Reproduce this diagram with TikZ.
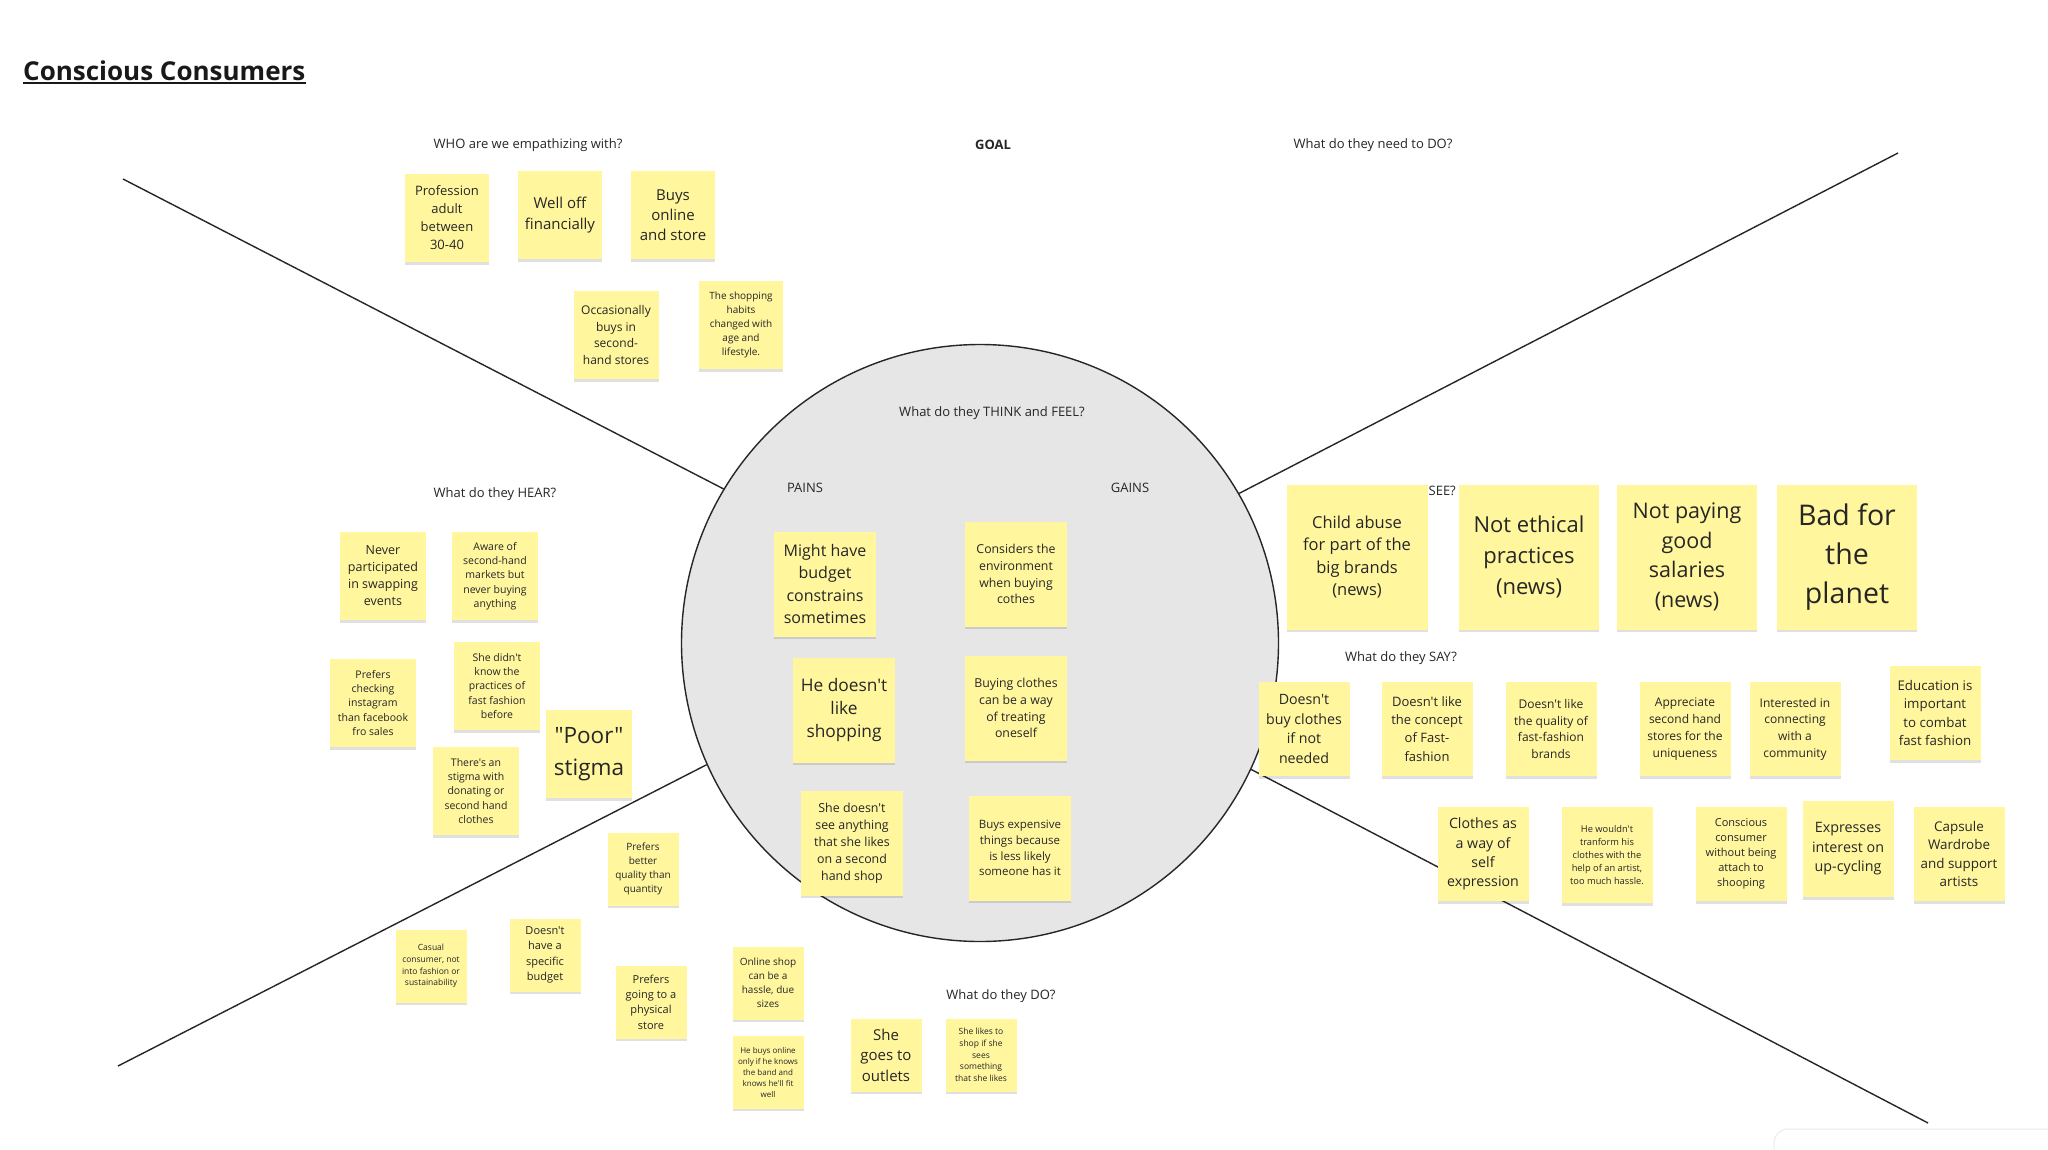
\documentclass[tikz,border=0pt]{standalone}
\usepackage{fontspec}
\setmainfont{Open Sans}[Ligatures=TeXOff]
\usetikzlibrary{shadows}
\definecolor{notey}{RGB}{255,246,158}
\definecolor{thinkgrey}{RGB}{230,230,230}
\definecolor{inkgrey}{RGB}{38,38,38}

\begin{document}
\begin{tikzpicture}[
  x=1pt, y=-1pt,
  fs/.style 2 args={font=\fontsize{#1}{#2}\selectfont},
  heading/.style={fs={13}{16}, text=inkgrey, inner sep=0pt},
  note/.style={fill=notey, text=inkgrey, align=center, inner sep=0pt,
    drop shadow={shadow xshift=0pt, shadow yshift=-2.5pt, opacity=0.12, fill=black}},
  n86/.style={note, minimum width=86, minimum height=88},
  n71/.style={note, minimum width=71, minimum height=73},
  n102/.style={note, minimum width=102, minimum height=105},
  n140/.style={note, minimum width=140, minimum height=145},
  n91/.style={note, minimum width=91, minimum height=94},
  quadline/.style={draw=inkgrey, line width=1.4pt}
]
\useasboundingbox (0,0) rectangle (2048,1149);
\clip (0,0) rectangle (2048,1149);
\fill[white] (0,0) rectangle (2048,1149);
\draw[black!8, line width=1pt, rounded corners=14] (1774,1129) rectangle (2080,1190);

\node[font=\fontsize{26}{30}\selectfont\bfseries, text=black!90, inner sep=0pt, anchor=base west] (title) at (23,80) {Conscious Consumers};
\draw[line width=2pt, black!90] ([yshift=-2.5pt]title.base west) -- ([yshift=-2.5pt]title.base east);

\node[draw=inkgrey, line width=1.4pt, circle, fill=thinkgrey, minimum size=597] (think) at (980,643) {};
\coordinate (tl) at (123,179);
\coordinate (tr) at (1898,153);
\coordinate (bl) at (118,1066);
\coordinate (br) at (1928,1123);
\draw[quadline] (tl) -- (think.149.5);
\draw[quadline] (tr) -- (think.30.7);
\draw[quadline] (bl) -- (think.204.1);
\draw[quadline] (br) -- (think.-25);

\node[heading] (who) at (528,145) {WHO are we empathizing with?};
\node[heading, font=\fontsize{13}{16}\selectfont\bfseries] (goal) at (993,145) {GOAL};
\node[heading] (needdo) at (1373,145) {What do they need to DO?};
\node[n86, minimum width=84, fs={13}{18}] (w1) at (447,218) {Profession\\adult\\between\\30-40};
\node[n86, minimum width=84, fs={15}{20.5}] (w2) at (560,215) {Well off\\financially};
\node[n86, minimum width=84, fs={15}{20}] (w3) at (673,215) {Buys\\online\\and store};
\node[n86, minimum width=85, fs={12}{16.7}] (w4) at (616,335) {Occasionally\\buys in\\second-\\hand stores};
\node[n86, minimum width=84, fs={10}{14}] (w5) at (741,325) {The shopping\\habits\\changed with\\age and\\lifestyle.};

\node[heading] (hear) at (495,494) {What do they HEAR?};
\node[n86, fs={12.5}{17}] (h1) at (383,576) {Never\\participated\\in swapping\\events};
\node[n86, fs={10.5}{14.3}] (h2) at (495,576) {Aware of\\second-hand\\markets but\\never buying\\anything};
\node[n86, fs={10.5}{14.3}] (h3) at (373,703) {Prefers\\checking\\instagram\\than facebook\\fro sales};
\node[n86, fs={10.5}{14.3}] (h4) at (497,686) {She didn't\\know the\\practices of\\fast fashion\\before};
\node[n86, fs={10.5}{14.3}] (h5) at (476,791) {There's an\\stigma with\\donating or\\second hand\\clothes};
\node[n86, fs={22.5}{31.5}] (h6) at (589,754) {"Poor"\\stigma};

\node[n71, fs={10}{14.2}] (o1) at (643,869) {Prefers\\better\\quality than\\quantity};
\node[n71, fs={8.5}{11.8}] (o2) at (431,966) {Casual\\consumer, not\\into fashion or\\sustainability};
\node[n71, fs={11}{15.3}] (o3) at (545,955) {Doesn't\\have a\\specific\\budget};
\node[n71, fs={11}{15.3}] (o4) at (651,1002) {Prefers\\going to a\\physical\\store};
\node[n71, fs={10}{14.1}] (o5) at (768,983) {Online shop\\can be a\\hassle, due\\sizes};
\node[n71, fs={8}{11}] (o6) at (768,1072) {He buys online\\only if he knows\\the band and\\knows he'll fit\\well};
\node[heading] (do) at (1001,996) {What do they DO?};
\node[n71, fs={15}{20.5}] (o7) at (886,1055) {She\\goes to\\outlets};
\node[n71, fs={8.5}{11.7}] (o8) at (981,1055) {She likes to\\shop if she\\sees\\something\\that she likes};

\node[heading] (thinkfeel) at (992,413) {What do they THINK and FEEL?};
\node[heading] (pains) at (805,488) {PAINS};
\node[heading] (gains) at (1130,488) {GAINS};
\node[n102, fs={16}{22.1}] (p1) at (825,584) {Might have\\budget\\constrains\\sometimes};
\node[n102, fs={17.3}{23.2}] (p2) at (844,710) {He doesn't\\like\\shopping};
\node[n102, fs={12.4}{17}] (p3) at (852,843) {She doesn't\\see anything\\that she likes\\on a second\\hand shop};
\node[n102, fs={12.3}{16.9}] (g1) at (1016,574) {Considers the\\environment\\when buying\\cothes};
\node[n102, fs={12.3}{16.9}] (g2) at (1016,708) {Buying clothes\\can be a way\\of treating\\oneself};
\node[n102, fs={11.5}{15.7}] (g3) at (1020,848) {Buys expensive\\things because\\is less likely\\someone has it};

\node[heading, anchor=east] (see) at (1456,492) {What do they SEE?};
\node[n140, minimum width=141, fs={16.5}{22.4}] (s1) at (1357,557) {Child abuse\\for part of the\\big brands\\(news)};
\node[n140, fs={22}{30.8}] (s2) at (1529,557) {Not ethical\\practices\\(news)};
\node[n140, fs={21.5}{29.5}] (s3) at (1687,557) {Not paying\\good\\salaries\\(news)};
\node[n140, fs={28.5}{39}] (s4) at (1847,557) {Bad for\\the\\planet};

\node[heading] (say) at (1401,658) {What do they SAY?};
\node[n91, fs={14.2}{19.7}] (y1) at (1304,729) {Doesn't\\buy clothes\\if not\\needed};
\node[n91, fs={13}{18.2}] (y2) at (1427,729) {Doesn't like\\the concept\\of Fast-\\fashion};
\node[n91, fs={12}{16.7}] (y3) at (1551,729) {Doesn't like\\the quality of\\fast-fashion\\brands};
\node[n91, fs={12}{16.7}] (y4) at (1685,729) {Appreciate\\second hand\\stores for the\\uniqueness};
\node[n91, fs={12}{16.7}] (y5) at (1795,729) {Interested in\\connecting\\with a\\community};
\node[n91, fs={13.3}{18.2}] (y6) at (1935,713) {Education is\\important\\to combat\\fast fashion};
\node[n91, fs={14.2}{19.4}] (y7) at (1483,854) {Clothes as\\a way of\\self\\expression};
\node[n91, minimum height=96, fs={9.3}{12.9}] (y8) at (1607,855) {He wouldn't\\tranform his\\clothes with the\\help of an artist,\\too much hassle.};
\node[n91, fs={11}{15}] (y9) at (1741,854) {Conscious\\consumer\\without being\\attach to\\shooping};
\node[n91, minimum height=96, fs={14.3}{19.5}] (y10) at (1848,849) {Expresses\\interest on\\up-cycling};
\node[n91, fs={13.4}{18.3}] (y11) at (1959,854) {Capsule\\Wardrobe\\and support\\artists};
\end{tikzpicture}
\end{document}
